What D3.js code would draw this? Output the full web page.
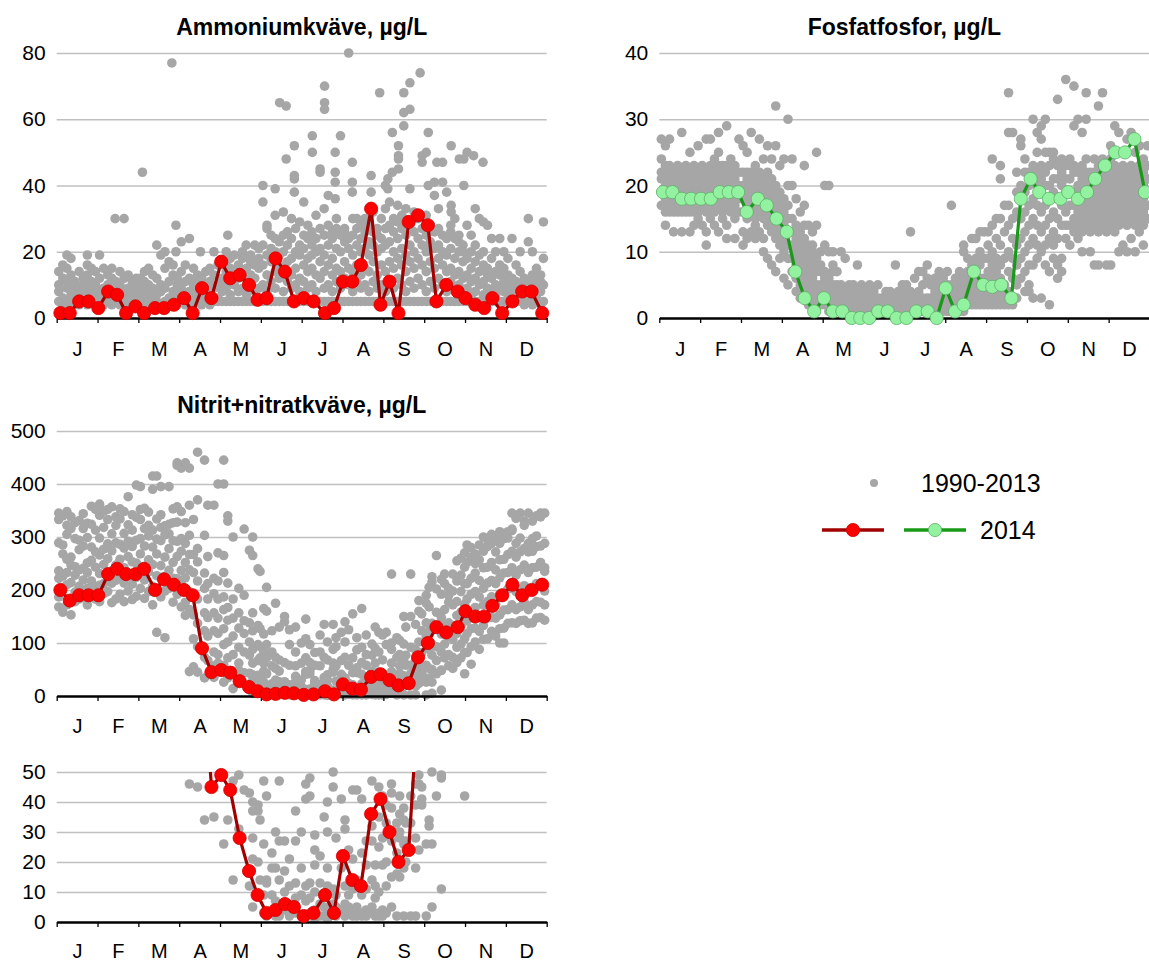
<!DOCTYPE html>
<html>
<head>
<meta charset="utf-8">
<script src="https://cdn.jsdelivr.net/npm/d3@7"></script>
<style>
body { margin: 0; background: #fff; }
text { font-family: "Liberation Sans", Arial, sans-serif; fill: #000; }
</style>
</head>
<body>
<svg id="chart" width="1149" height="962"></svg>
<script>
var months = ["J", "F", "M", "A", "M", "J", "J", "A", "S", "O", "N", "D"];

// 2014 sampling dates, as fractional month (0 = 1 Jan, 12 = 31 Dec)
var dates2014 = [0.09,0.32,0.55,0.78,1.02,1.26,1.48,1.70,1.93,2.14,2.41,2.63,2.87,3.12,3.33,3.56,3.79,4.03,4.25,4.48,4.71,4.92,5.14,5.36,5.59,5.81,6.05,6.29,6.57,6.79,7.01,7.24,7.45,7.70,7.93,8.15,8.37,8.62,8.85,9.09,9.30,9.54,9.82,10.01,10.25,10.47,10.67,10.91,11.16,11.40,11.63,11.89];
var ammonium2014 = [1.5,1.5,5,5,3,8,7,1.5,3.5,1.5,3,3,4,6,1.5,9,6,17,12,13,10,5.5,6,18,14,5,6,5,1.5,3,11,11,16,33,4,11,1.5,29,31,28,5,10,8,6,4,3,6,1.5,5,8,8,1.5];
var fosfat2014 = [19,19,18,18,18,18,19,19,19,16,18,17,15,13,7,3,1,3,1,1,0,0,0,1,1,0,0,1,1,0,4.5,1,2,7,5,4.7,5,3,18,21,19,18,18,19,18,19,21,23,25,25,27,19];
var nitrit2014 = [200,180,190,190,190,230,240,230,230,240,200,220,210,200,190,90,45,49,44,28,17,9,3,4,6,5,2,3,9,3,22,14,12,36,41,30,20,24,73,100,130,120,130,160,150,150,170,190,210,190,200,210];

// 1990-2013: [date (fractional month), [values measured around that date]]
var ammoniumOld = [[0.05,[5,8,14,10]],[0.15,[4,6,12,16]],[0.25,[5,9,15,19,11]],[0.35,[4,7,10,18,13]],[0.45,[5,8,11,6]],[0.55,[4,9,14,7]],[0.65,[5,6,10,12]],[0.75,[4,8,13,16,19]],[0.85,[5,7,9,11,15]],[0.95,[4,6,10,14]],
[1.05,[5,8,12,19]],[1.15,[4,6,9,15]],[1.25,[5,7,10,13]],[1.35,[4,8,12,15]],[1.43,[30]],[1.45,[5,6,9,11]],[1.55,[4,7,10,14]],[1.65,[5,8,12,30]],[1.75,[4,6,9,13]],[1.85,[5,7,11]],[1.95,[4,8,10,12]],
[2.05,[5,6,9,12]],[2.1,[44]],[2.15,[4,7,11,14]],[2.25,[5,8,10,15]],[2.35,[4,6,9,13]],[2.45,[5,7,12,22]],[2.55,[4,8,10,19]],[2.65,[5,9,15,20]],[2.75,[4,6,11,17]],[2.82,[77]],[2.85,[5,8,13,16]],[2.92,[28,20]],[2.95,[4,7,10,12]],
[3.05,[5,9,14,23]],[3.15,[4,6,11,16]],[3.25,[5,8,12,24]],[3.35,[4,7,10,15]],[3.45,[5,9,13,11]],[3.52,[20]],[3.55,[4,6,12,8]],[3.65,[5,8,10,14]],[3.75,[4,7,11,15]],[3.85,[5,9,13,20]],[3.95,[5,6,10,16]],
[4.05,[5,8,12,17,10]],[4.15,[5,9,14,16,20]],[4.19,[25]],[4.25,[5,7,11,15,18]],[4.35,[5,10,13,19]],[4.45,[5,8,12,16]],[4.55,[5,9,14,18,20]],[4.64,[22]],[4.65,[5,7,11,15]],[4.75,[5,10,13,17,19]],[4.85,[5,8,12,16,22]],[4.95,[5,9,15,18,21]],
[5.05,[5,10,16,22,35,40]],[5.15,[5,8,13,19,28,27]],[5.25,[5,11,17,21,25]],[5.35,[5,9,14,20,24,31,39]],[5.46,[65]],[5.45,[5,12,16,23,19]],[5.55,[5,8,14,20,25,32]],[5.62,[64,48]],[5.65,[5,11,17,22,26]],[5.75,[5,9,13,18,24,30]],[5.82,[43,42,52,38]],[5.85,[5,10,15,20,27]],[5.95,[5,8,12,19,22,29]],
[6.05,[5,11,16,21,25,35]],[6.15,[5,9,14,18,24,28]],[6.26,[55,50]],[6.25,[5,10,15,22,26,19]],[6.35,[5,8,13,20,24,31]],[6.45,[5,12,17,21,27,44,45]],[6.56,[70,65,63]],[6.55,[5,9,14,19,25,33]],[6.65,[5,10,16,22,28,37]],[6.75,[5,8,13,18,24,26]],[6.82,[50,44,41,36]],[6.85,[5,11,15,21,27,30]],[6.95,[5,9,14,20,25,55]],
[7.05,[5,12,17,23,27,26]],[7.15,[80,5,10,15,21,24]],[7.24,[41,38,47]],[7.25,[5,8,14,19,25,30]],[7.35,[5,11,16,22,27,30]],[7.45,[5,9,13,20,24,28]],[7.55,[5,10,15,21,26,30]],[7.65,[5,8,14,19,23,28]],[7.7,[43,38]],[7.75,[5,11,17,22,26,32]],[7.85,[5,9,13,20,25,27]],[7.91,[68]],[7.95,[5,10,16,21,24,30]],
[8.05,[5,8,14,22,27,33,40]],[8.11,[42,39]],[8.15,[5,11,17,23,28,35]],[8.22,[56,44]],[8.25,[5,9,15,20,26,30]],[8.37,[52,48,49,45]],[8.35,[5,12,18,24,29,34]],[8.5,[68,58,62]],[8.45,[5,10,16,21,27,31]],[8.55,[5,8,14,19,25,33]],[8.65,[71,63,5,11,17,22,28,39]],[8.75,[5,9,15,20,26,32]],[8.85,[5,12,18,24,30]],[8.9,[74]],[8.95,[5,10,16,22,27,49,47]],
[9.05,[5,8,14,20,25,31,50]],[9.1,[56,40]],[9.15,[5,11,17,23,28,22]],[9.25,[5,9,15,21,26,41,37]],[9.31,[47]],[9.35,[5,12,18,22,27,33]],[9.45,[5,10,16,20,25,47,41]],[9.55,[5,8,14,19,24,38]],[9.66,[52,34,32]],[9.65,[5,11,15,21,26,28]],[9.75,[5,9,13,18,24,30]],[9.86,[48]],[9.85,[5,10,14,20,25,23]],[9.97,[48,40]],[9.95,[5,8,12,17,22,20]],
[10.05,[5,9,13,18,50,28]],[10.15,[5,7,11,15,20,25]],[10.21,[49]],[10.25,[5,8,12,17,33,22]],[10.35,[5,10,14,19,30]],[10.44,[47]],[10.45,[5,7,11,16,20,29]],[10.55,[5,9,13,15,28]],[10.65,[5,8,12,18,24]],[10.75,[5,7,10,14,20]],[10.85,[5,9,13,16,24]],[10.95,[5,8,11,15,20]],
[11.05,[5,7,10,13,18]],[11.15,[5,6,9,12,24]],[11.25,[5,8,11,16]],[11.35,[5,7,10,14,20]],[11.45,[4,6,9,12]],[11.55,[5,8,11,30,23]],[11.65,[4,7,10,13,20]],[11.75,[5,6,9,15,12]],[11.85,[4,8,11,13]],[11.92,[29,18,10,5]]];

var fosfatOld = [[0.05,[17,19,21,22,24,27]],[0.15,[16,18,20,22,23,26,14]],[0.25,[17,19,21,23,27,16]],[0.35,[16,18,20,22,13]],[0.45,[17,19,21,23,16]],[0.55,[16,18,20,22,13,28]],[0.65,[17,19,21,23,16,18]],[0.75,[16,18,20,22,25,13]],[0.85,[17,19,21,23,14,16]],[0.95,[16,18,20,22,26,15]],
[1.05,[17,19,21,23,14,18]],[1.15,[16,18,20,22,27,11,13]],[1.25,[17,19,21,23,27,15]],[1.35,[16,18,20,22,24,14]],[1.45,[17,19,21,23,25,28,13]],[1.55,[16,18,20,22,23,15]],[1.65,[17,19,21,23,29,14,12]],[1.75,[16,18,20,22,24,17]],[1.85,[17,19,21,23,12,15]],[1.95,[16,18,20,22,27,19]],
[2.05,[16,18,20,22,26,11,13]],[2.15,[17,19,21,25,22,12,15]],[2.25,[16,18,20,22,28,13]],[2.35,[15,17,19,21,23,12,14]],[2.45,[16,18,20,22,27,13]],[2.55,[15,17,19,21,24,12,10]],[2.65,[14,16,18,20,22,26,9]],[2.75,[13,15,17,19,21,24,8]],[2.85,[12,14,16,18,20,32,26,7]],[2.95,[11,13,15,17,19,23,9]],
[3.05,[10,12,14,16,18,24,6]],[3.15,[9,11,13,15,17,30,5,20]],[3.25,[7,9,11,13,15,24,20]],[3.35,[6,8,10,12,14,18,4]],[3.45,[5,7,9,11,13,16,3]],[3.55,[4,6,8,10,12,23,17,14]],[3.65,[3,5,7,9,11,14,2]],[3.75,[3,4,6,8,10,11,13]],[3.85,[2,3,5,7,9,25,14]],[3.95,[2,4,5,7,8,10]],
[4.05,[2,3,4,6,7,20,11]],[4.15,[1,2,3,5,6,10,20]],[4.25,[1,2,3,4,5,7,8,10]],[4.35,[1,2,3,4,5,7]],[4.45,[1,2,3,4,5,10]],[4.55,[1,2,3,4,9]],[4.65,[1,2,3,4,5]],[4.75,[1,2,3,5]],[4.85,[1,2,3,4,8]],[4.95,[1,2,3,5]],
[5.05,[1,2,3,4]],[5.15,[1,2,3,5]],[5.25,[1,2,3,4]],[5.35,[1,2,3,5]],[5.45,[1,2,3]],[5.55,[1,2,3,4]],[5.65,[1,2,4,3]],[5.78,[1,2,3,8]],[5.85,[1,2,3,4]],[5.95,[1,2,3,5]],
[6.05,[1,2,3,4,5]],[6.15,[1,2,3,4,13]],[6.25,[1,2,3,6]],[6.35,[1,2,3,4,7]],[6.45,[1,2,3,5,7]],[6.56,[1,2,3,6,8]],[6.65,[1,2,3,5]],[6.75,[1,2,3,4,6]],[6.85,[1,2,3,5,7]],[6.95,[1,2,3,4,6]],
[7.05,[1,2,3,4,5,7]],[7.15,[1,2,3,5,17]],[7.25,[1,2,3,4,6]],[7.35,[1,2,3,5,7]],[7.45,[1,2,3,4,6,10,11]],[7.55,[2,3,4,5,7,9]],[7.65,[2,3,4,6,8,12]],[7.75,[2,3,4,5,7,9,12]],[7.85,[2,3,5,6,8,10,13]],[7.95,[2,3,4,6,9,13]],
[8.05,[2,3,5,7,9,11,13]],[8.15,[2,3,4,6,8,10,14,24]],[8.25,[2,3,5,7,9,12,15]],[8.35,[2,4,6,8,11,15,21,23]],[8.45,[2,3,5,9,13,17]],[8.55,[2,4,7,10,14,17,34,28]],[8.65,[2,3,6,9,12,15,28]],[8.75,[3,5,8,11,16,19,22]],[8.85,[6,9,12,15,18,20,26,27]],[8.95,[4,7,10,13,16,19,22,24]],
[9.05,[5,8,11,14,17,20,22,4]],[9.15,[3,8,12,15,18,21,30,23]],[9.25,[9,11,14,17,20,22,28,25]],[9.35,[10,13,16,19,21,23,29,27,3]],[9.45,[8,11,14,17,20,22,25,30]],[9.55,[2,7,12,15,18,20,23,25]],[9.65,[9,11,13,16,19,21,24,25]],[9.75,[6,8,12,15,18,21,33,23]],[9.85,[7,9,14,17,20,22,24]],[9.95,[12,14,16,19,21,23,36]],
[10.05,[11,14,17,19,21,23,24]],[10.15,[13,15,17,19,22,23,35,29]],[10.25,[12,14,16,18,20,22,30]],[10.35,[13,15,17,19,21,23,28,10]],[10.45,[14,16,18,20,22,24,34,30]],[10.55,[13,15,17,19,21,22,10]],[10.65,[14,16,18,20,22,24,8]],[10.75,[13,15,17,19,21,23,32,8]],[10.85,[14,16,18,20,22,24,34]],[10.95,[15,17,19,21,23,13,8]],
[11.05,[14,16,18,20,22,24,26,8]],[11.15,[15,17,19,21,23,29,13]],[11.25,[14,16,18,20,22,28,10]],[11.35,[15,17,19,21,23,25,11]],[11.45,[14,16,18,20,22,27,10]],[11.55,[15,17,19,21,23,28,12]],[11.65,[14,16,18,20,22,25,10]],[11.75,[15,17,19,21,23,26,13]],[11.85,[14,16,18,20,22,24,11]],[11.95,[15,17,19,21,23,26]]];

var nitritOld = [[0.05,[168,187,222,236,289,333,345]],[0.15,[158,204,226,268,285,340]],[0.25,[172,210,233,258,305,348,322]],[0.35,[153,181,214,247,262,316,338]],[0.45,[178,196,228,244,297,327]],[0.55,[183,207,238,276,294,331]],[0.65,[186,219,241,283,316,344]],[0.75,[172,203,233,251,299,326]],[0.85,[191,217,256,281,324,358]],[0.95,[183,206,243,272,313,352]],
[1.05,[178,209,231,266,298,341,362]],[1.15,[193,212,248,277,318,349]],[1.25,[197,221,259,287,333,352]],[1.35,[176,213,236,274,306,357]],[1.45,[183,218,247,289,322,338]],[1.55,[192,222,258,286,334,353]],[1.65,[178,213,242,279,307,348]],[1.75,[198,227,263,292,323,376]],[1.85,[182,211,253,282,313,342]],[1.95,[188,224,251,294,337,398]],
[2.05,[203,228,268,297,333,352,395]],[2.15,[184,219,243,283,316,354]],[2.25,[197,234,257,302,322,347]],[2.35,[172,207,248,281,313,415,390]],[2.45,[120,203,227,268,296,334,415]],[2.55,[187,223,246,293,318,342,395]],[2.65,[110,198,226,262,304,321]],[2.75,[203,237,278,306,324,395]],[2.85,[177,222,252,293,327,353]],[2.95,[192,221,263,292,328,357,440,435]],
[3.05,[168,213,237,273,297,348,430]],[3.15,[152,177,223,252,288,327,440]],[3.25,[46,163,197,238,267,303,360,430]],[3.35,[55,108,153,187,233,267,333]],[3.45,[45,93,137,183,217,253,278,370,460]],[3.62,[34,73,123,157,203,232,303,445]],[3.7,[67,113,148,183,212,263,360]],[3.85,[35,57,83,123,157,193,222,360]],[3.95,[62,78,118,147,183,217,400,270]],
[4.09,[26,58,97,127,163,187,233,445,400,265]],[4.19,[34,72,102,143,167,213,340,330]],[4.32,[14,47,78,113,147,183,300]],[4.46,[31,49,62,92,128,157,203]],[4.59,[44,83,118,142,315,190]],[4.72,[43,12,77,102,138,275]],[4.8,[37,40,28,21,5,62,88,123,157,300,265]],[4.93,[37,39,20,67,97,133,240]],[4.98,[34,14,72,93,127,235]],
[5.07,[47,26,3,9,62,83,117,165]],[5.14,[42,14,13,2,72,97,160,205]],[5.27,[23,9,3,18,57,83,123]],[5.36,[18,30,2,7,52,73,175]],[5.45,[27,14,2,6,47,68,130]],[5.58,[27,17,4,10,63,150,140]],[5.7,[2,6,12,21,58,97,125]],[5.85,[37,27,3,8,13,57,83,130]],[5.99,[30,2,9,18,62,100]],
[6.1,[46,41,2,7,12,72,108,145]],[6.2,[48,42,3,8,13,63,97]],[6.32,[29,1,4,10,19,24,58,82]],[6.45,[22,2,6,13,57,83,115]],[6.55,[35,2,5,9,73,135]],[6.63,[40,30,1,4,12,18,68,102]],[6.77,[50,45,3,6,11,62,88,135]],[6.84,[28,2,5,9,57,93,110]],[6.97,[41,4,18,67,120]],
[7.06,[34,31,2,6,12,73,102,140]],[7.15,[3,5,9,24,58,125]],[7.25,[2,4,11,21,44,72,155]],[7.35,[44,2,5,14,53,87,110]],[7.47,[41,2,3,9,23,63,92,165]],[7.58,[2,4,11,19,27,58,78,115]],[7.72,[47,3,5,14,27,32,77,98]],[7.8,[2,8,12,19,62,130,90]],[7.89,[45,2,3,10,25,35,83,120]],[7.98,[2,4,19,28,42,68,115]],
[8.07,[39,3,12,20,33,97,120]],[8.2,[43,46,5,15,27,38,62,88,230,100]],[8.33,[33,2,16,23,30,73,110]],[8.4,[30,42,15,28,36,57,78,105]],[8.5,[34,38,2,18,26,67,98,150]],[8.55,[33,20,27,58,77,130]],[8.67,[2,24,33,42,58,92,150,230]],[8.79,[28,18,2,39,46,68,87,135]],[8.87,[49,46,24,63,102,160,180]],[8.94,[45,41,39,82,123,155]],
[9.05,[2,26,58,112,138,190,175]],[9.12,[32,34,52,88,122,168,205]],[9.19,[50,5,26,77,98,137,215,225]],[9.3,[42,67,93,127,158,202,265]],[9.42,[48,49,11,83,117,148,192,220]],[9.5,[72,98,132,163,212,230]],[9.6,[57,78,112,138,177,203,190]],[9.7,[52,73,107,133,172,198,230]],[9.8,[63,92,118,152,178,217,255]],[9.9,[72,98,132,158,197,228,260]],[9.99,[42,82,108,142,173,212,243,270]],
[10.05,[82,118,142,183,212,252,285]],[10.15,[60,93,127,153,192,222,262,280]],[10.25,[102,128,167,197,232,268,250]],[10.35,[88,122,148,187,218,257,285]],[10.45,[107,133,172,203,242,273,300]],[10.55,[108,147,178,213,243,282,295]],[10.65,[122,148,187,218,252,288,305]],[10.75,[113,147,173,212,238,272,300]],[10.85,[127,153,192,223,257,288,310,100]],[10.95,[128,162,193,232,258,297,305,100]],
[11.05,[137,163,202,233,267,298,310]],[11.15,[138,172,203,242,273,312,315,345]],[11.25,[137,163,197,228,262,288,335]],[11.35,[142,168,202,238,272,298,345]],[11.45,[143,177,208,247,278,322,330]],[11.55,[137,163,202,233,272,288,345]],[11.65,[138,172,203,242,273,297,330]],[11.75,[147,178,212,243,282,302,340]],[11.85,[148,177,213,252,283,338,345]],[11.95,[143,172,198,242,288,345,235]]];

var svg = d3.select("#chart");
var panelCount = 0;

function points(old) {
  var pts = [];
  old.forEach(function(c) {
    c[1].forEach(function(v) { pts.push({m: c[0], v: v}); });
  });
  return pts;
}

function panel(p) {
  var x = d3.scaleLinear().domain([0, 12]).range([p.left, p.right]);
  var y = d3.scaleLinear().domain([0, p.max]).range([p.zero, p.top]);
  var g = svg.append("g");
  panelCount++;

  // gridlines + y labels
  var yAxis = g.append("g")
    .attr("transform", "translate(" + p.left + ",0)")
    .call(d3.axisLeft(y).tickValues(p.ticks).tickSize(-(p.right - p.left)).tickPadding(11));
  yAxis.select(".domain").remove();
  yAxis.selectAll(".tick line").attr("stroke", "#c0c0c0").attr("stroke-width", 1.3)
    .filter(function(d) { return d === 0; }).remove();
  yAxis.selectAll(".tick text").style("font-size", "21px").attr("fill", "#000");

  if (p.title) {
    g.append("text")
      .attr("x", (p.left + p.right) / 2)
      .attr("y", p.titleY)
      .attr("text-anchor", "middle")
      .style("font-size", "23px")
      .style("font-weight", "bold")
      .text(p.title);
  }

  var old = points(p.old).filter(function(d) { return d.v <= p.max; });
  g.append("g").selectAll("circle")
    .data(old)
    .enter().append("circle")
    .attr("cx", function(d) { return x(d.m); })
    .attr("cy", function(d) { return y(d.v); })
    .attr("r", 4.8)
    .attr("fill", "#a6a6a6");

  // x axis: black base line with month ticks, labels in the middle of each month
  var xAxis = g.append("g")
    .attr("transform", "translate(0," + p.zero + ")")
    .call(d3.axisBottom(x).tickValues(d3.range(13)).tickSize(5).tickSizeOuter(0).tickFormat(""));
  xAxis.select(".domain").attr("stroke", "#000").attr("stroke-width", 2.6);
  xAxis.selectAll(".tick line").attr("stroke", "#000").attr("stroke-width", 1.3);

  var mAxis = g.append("g")
    .attr("transform", "translate(0," + p.zero + ")")
    .call(d3.axisBottom(x).tickValues(d3.range(12).map(function(i) { return i + 0.5; }))
      .tickSize(0).tickPadding(p.monthPad).tickFormat(function(d, i) { return months[i]; }));
  mAxis.select(".domain").remove();
  mAxis.selectAll("text").style("font-size", "20px").attr("fill", "#000");

  // the 2014 line is cut at the top of the plot (matters for the low-range panel)
  var clipId = "clip" + panelCount;
  g.append("clipPath").attr("id", clipId)
    .append("rect")
    .attr("x", p.left - 10).attr("width", p.right - p.left + 20)
    .attr("y", p.top).attr("height", p.zero - p.top + 10);

  var series = dates2014.map(function(m, i) { return {m: m, v: p.values[i]}; });
  var line = d3.line()
    .x(function(d) { return x(d.m); })
    .y(function(d) { return y(d.v); });

  g.append("path")
    .datum(series)
    .attr("clip-path", "url(#" + clipId + ")")
    .attr("d", line)
    .attr("fill", "none")
    .attr("stroke", p.lineColor)
    .attr("stroke-width", 3.2);

  g.append("g").selectAll("circle")
    .data(series.filter(function(d) { return d.v <= p.max; }))
    .enter().append("circle")
    .attr("cx", function(d) { return x(d.m); })
    .attr("cy", function(d) { return y(d.v); })
    .attr("r", 6.6)
    .attr("fill", p.dotFill)
    .attr("stroke", p.dotStroke)
    .attr("stroke-width", 0.8);
}

var red = {lineColor: "#a00000", dotFill: "#ff0000", dotStroke: "#d00000"};
var green = {lineColor: "#179a17", dotFill: "#93f2a0", dotStroke: "#5fae6a"};

panel(Object.assign({title: "Ammoniumkväve, µg/L", titleY: 35, left: 56.7, right: 546.7, zero: 318, top: 53,
  max: 80, ticks: [0, 20, 40, 60, 80], old: ammoniumOld, values: ammonium2014, monthPad: 24}, red));

panel(Object.assign({title: "Fosfatfosfor, µg/L", titleY: 35, left: 659.3, right: 1149.5, zero: 318, top: 53,
  max: 40, ticks: [0, 10, 20, 30, 40], old: fosfatOld, values: fosfat2014, monthPad: 24}, green));

panel(Object.assign({title: "Nitrit+nitratkväve, µg/L", titleY: 413, left: 56.7, right: 546.7, zero: 696, top: 431,
  max: 500, ticks: [0, 100, 200, 300, 400, 500], old: nitritOld, values: nitrit2014, monthPad: 23}, red));

// same data, low range only
panel(Object.assign({title: null, left: 56.7, right: 546.7, zero: 922, top: 772,
  max: 50, ticks: [0, 10, 20, 30, 40, 50], old: nitritOld, values: nitrit2014, monthPad: 22}, red));

// legend
var legend = svg.append("g");
legend.append("circle").attr("cx", 874).attr("cy", 483).attr("r", 4).attr("fill", "#a6a6a6");
legend.append("text").attr("x", 921).attr("y", 483).attr("dy", "0.35em")
  .style("font-size", "25px").text("1990-2013");

[[822, 884, red], [904, 966, green]].forEach(function(l) {
  legend.append("line")
    .attr("x1", l[0]).attr("x2", l[1]).attr("y1", 530).attr("y2", 530)
    .attr("stroke", l[2].lineColor).attr("stroke-width", 3.5);
  legend.append("circle")
    .attr("cx", (l[0] + l[1]) / 2).attr("cy", 530).attr("r", 6.6)
    .attr("fill", l[2].dotFill).attr("stroke", l[2].dotStroke).attr("stroke-width", 0.8);
});
legend.append("text").attr("x", 980).attr("y", 530).attr("dy", "0.35em")
  .style("font-size", "25px").text("2014");
</script>
</body>
</html>
